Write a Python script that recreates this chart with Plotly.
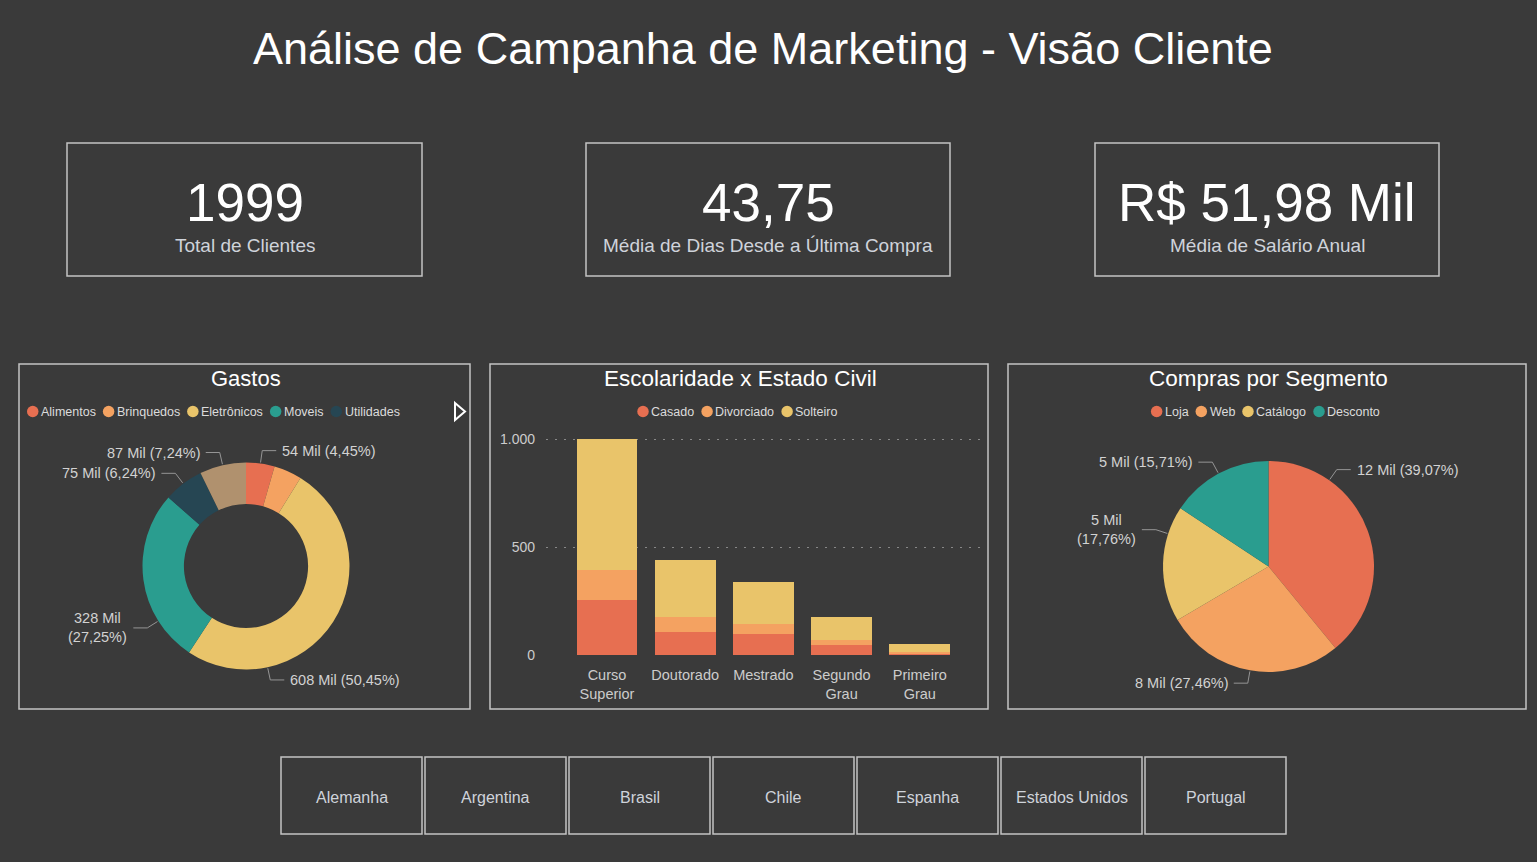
import math
import plotly.graph_objects as go

# ---------------- DATA ----------------
titulo = "Análise de Campanha de Marketing - Visão Cliente"

total_clientes = 1999
media_dias_ultima_compra = 43.75
media_salario_anual = 51980

kpi_rotulos = ["Total de Clientes", "Média de Dias Desde a Última Compra", "Média de Salário Anual"]

gastos_categorias = ["Alimentos", "Brinquedos", "Eletrônicos", "Moveis", "Utilidades", "Vestuário"]
gastos_valores = [53622, 52659, 607922, 328362, 75192, 87242]
gastos_legenda = ["Alimentos", "Brinquedos", "Eletrônicos", "Moveis", "Utilidades"]

escolaridade = ["Curso Superior", "Doutorado", "Mestrado", "Segundo Grau", "Primeiro Grau"]
estado_civil = ["Casado", "Divorciado", "Solteiro"]
casado = [255, 106, 97, 46, 9]
divorciado = [139, 70, 47, 23, 7]
solteiro = [607, 264, 194, 107, 35]
y_ticks = [0, 500, 1000]

segmentos = ["Loja", "Web", "Catálogo", "Desconto"]
compras_valores = [11721, 8238, 5328, 4713]

paises = ["Alemanha", "Argentina", "Brasil", "Chile", "Espanha", "Estados Unidos", "Portugal"]

# ---------------- STYLE ----------------
W, H = 1537, 862
BG = "#3a3a3a"
BORDER = "#c4c4c4"
FONT = "Liberation Sans, Arial, sans-serif"
LABEL_COLOR = "#cfd3da"
DATA_LABEL = "#d2d2d2"
LINE_COLOR = "#959595"
LEGEND_TEXT = "#dcdcdc"

cores_gastos = ["#e76f51", "#f4a261", "#e9c46a", "#2a9d8f", "#264653", "#b0916e"]
cores_civil = ["#e76f51", "#f4a261", "#e9c46a"]
cores_segmento = ["#e76f51", "#f4a261", "#e9c46a", "#2a9d8f"]

# label placement style (fraction along each slice, visibility, wrapping)
gastos_label_frac = [0.5, 0.5, 0.75, 0.25, 0.5, 0.5]
gastos_label_show = [True, False, True, True, True, True]
gastos_label_wrap = [False, False, False, True, False, False]
compras_label_frac = [0.25, 0.5, 0.76, 0.5]
compras_label_wrap = [False, False, True, False]

# Arial / Liberation Sans advance widths (per 1000 em) for legend layout
ARIAL_W = {" ": 278, "A": 667, "B": 667, "C": 722, "D": 722, "E": 667, "L": 556, "M": 833,
           "S": 667, "U": 722, "W": 944, "a": 556, "á": 556, "b": 556, "c": 500, "d": 556,
           "e": 556, "f": 278, "g": 556, "h": 556, "i": 222, "j": 222, "l": 222, "m": 833,
           "n": 556, "o": 556, "ô": 556, "p": 556, "q": 556, "r": 333, "s": 500, "t": 278,
           "u": 556, "v": 500, "z": 500}


def text_width(s, size):
    return sum(ARIAL_W.get(ch, 556) for ch in s) * size / 1000


def px(x):
    return x / W


def py(y):
    return 1 - y / H


def br_num(v, dec=2):
    s = f"{v:,.{dec}f}"
    return s.replace(",", "X").replace(".", ",").replace("X", ".")


fig = go.Figure()
shapes = []
annotations = []


def rect(x0, y0, x1, y1, width=1.5):
    shapes.append(dict(type="rect", xref="paper", yref="paper",
                       x0=px(x0), x1=px(x1), y0=py(y1), y1=py(y0),
                       line=dict(color=BORDER, width=width), fillcolor="rgba(0,0,0,0)", layer="below"))


def text(x, y, s, size, color, xanchor="center", yanchor="middle", align="center"):
    annotations.append(dict(xref="paper", yref="paper", x=px(x), y=py(y), text=s,
                            showarrow=False, xanchor=xanchor, yanchor=yanchor, align=align,
                            font=dict(family=FONT, size=size, color=color)))


# Title
text(763, 49, titulo, 45, "white")

# KPI cards
kpi_valores = [str(total_clientes), br_num(media_dias_ultima_compra), "R$ " + br_num(media_salario_anual / 1000) + " Mil"]
kpi_boxes = [(67, 143, 422, 276), (586, 143, 950, 276), (1095, 143, 1439, 276)]
for (x0, y0, x1, y1), val, lab in zip(kpi_boxes, kpi_valores, kpi_rotulos):
    rect(x0, y0, x1, y1)
    cx = (x0 + x1) / 2
    text(cx, 203, val, 53, "white")
    text(cx, 246, lab, 19, LABEL_COLOR)

# Panels
panels = [(19, 364, 470, 709), (490, 364, 988, 709), (1008, 364, 1526, 709)]
for p in panels:
    rect(*p)
text(246, 378, "Gastos", 22, "white")
text(740, 378, "Escolaridade x Estado Civil", 22.5, "white")
text(1268, 378, "Compras por Segmento", 22.5, "white")

# Legends (circle + text)
LEG_FS, LEG_D, LEG_TXT_GAP, LEG_ITEM_GAP = 12.5, 11.5, 0.5, 9


def legend(names, colors, y, x_left=None, x_center=None):
    widths = [text_width(n, LEG_FS) for n in names]
    total = sum(LEG_D + LEG_TXT_GAP + w + 2 for w in widths) + (LEG_ITEM_GAP - 2) * (len(names) - 1)
    x = x_left if x_left is not None else x_center - total / 2
    for n, c, w in zip(names, colors, widths):
        shapes.append(dict(type="circle", xref="paper", yref="paper",
                           x0=px(x), x1=px(x + LEG_D), y0=py(y + LEG_D / 2), y1=py(y - LEG_D / 2),
                           fillcolor=c, line=dict(width=0)))
        text(x + LEG_D + LEG_TXT_GAP, y + 0.5, n, LEG_FS, LEGEND_TEXT, xanchor="left")
        x += LEG_D + LEG_TXT_GAP + w + LEG_ITEM_GAP


legend(gastos_legenda, cores_gastos, 411.5, x_left=27)
legend(estado_civil, cores_civil, 411.5, x_center=737.5)
legend(segmentos, cores_segmento, 411.5, x_center=1265.5)

# pagination arrow in Gastos legend
shapes.append(dict(type="path", xref="paper", yref="paper",
                   path=f"M {px(455)},{py(403)} L {px(465)},{py(411.5)} L {px(455)},{py(420)} Z",
                   line=dict(color="white", width=2), fillcolor="rgba(0,0,0,0)"))


def pie_labels(values, cx, cy, R, fracs, show, wrap):
    total = sum(values)
    cum = 0.0
    for v, f, s, w in zip(values, fracs, show, wrap):
        start = cum / total * 360
        span = v / total * 360
        cum += v
        if not s:
            continue
        ang = math.radians(start + f * span)
        sx, sy = math.sin(ang), -math.cos(ang)
        ex, ey = cx + (R + 1) * sx, cy + (R + 1) * sy
        bx, by = cx + (R + 13) * sx, cy + (R + 13) * sy
        d = 1 if sx >= 0 else -1
        hx = bx + d * 14
        shapes.append(dict(type="path", xref="paper", yref="paper",
                           path=f"M {px(ex)},{py(ey)} L {px(bx)},{py(by)} L {px(hx)},{py(by)}",
                           line=dict(color=LINE_COLOR, width=1)))
        mil = f"{round(v / 1000)} Mil"
        pct = "(" + br_num(100 * v / total) + "%)"
        lab = mil + ("<br>" if w else " ") + pct
        text(hx + d * 4, by, lab, 14.5, DATA_LABEL,
             xanchor="left" if d > 0 else "right", align="center" if w else "left")


# Gastos donut
gcx, gcy, gR = 246, 566, 103.5
fig.add_trace(go.Pie(labels=gastos_categorias, values=gastos_valores, hole=0.6, sort=False,
                     direction="clockwise", rotation=0, textinfo="none",
                     marker=dict(colors=cores_gastos, line=dict(width=0)),
                     domain=dict(x=[px(gcx - gR), px(gcx + gR)], y=[py(gcy + gR), py(gcy - gR)]),
                     showlegend=False))
pie_labels(gastos_valores, gcx, gcy, gR, gastos_label_frac, gastos_label_show, gastos_label_wrap)

# Compras pie
ccx, ccy, cR = 1268.5, 566.5, 105.5
fig.add_trace(go.Pie(labels=segmentos, values=compras_valores, sort=False,
                     direction="clockwise", rotation=0, textinfo="none",
                     marker=dict(colors=cores_segmento, line=dict(width=0)),
                     domain=dict(x=[px(ccx - cR), px(ccx + cR)], y=[py(ccy + cR), py(ccy - cR)]),
                     showlegend=False))
pie_labels(compras_valores, ccx, ccy, cR, compras_label_frac, [True] * 4, compras_label_wrap)

# Stacked bars
for nome, vals, cor in zip(estado_civil, [casado, divorciado, solteiro], cores_civil):
    fig.add_trace(go.Bar(x=escolaridade, y=vals, name=nome, marker=dict(color=cor, line=dict(width=0)),
                         width=0.78, showlegend=False))

PX_PER_UNIT = (655 - 439) / 1000
y_top_px, y0_px = 430, 655
y_min = -4
y_max = (y0_px - y_top_px) / PX_PER_UNIT
y_bottom_px = y0_px - y_min * PX_PER_UNIT

fig.update_layout(
    width=W, height=H, margin=dict(l=0, r=0, t=0, b=0, pad=0, autoexpand=False),
    paper_bgcolor=BG, plot_bgcolor=BG, barmode="stack",
    separators=",.",
    font=dict(family=FONT, color="#cccccc"),
    xaxis=dict(domain=[px(546), px(980)], range=[-0.78, 4.77], showgrid=False, zeroline=False,
               showline=False, ticks="", tickvals=escolaridade, automargin=False,
               ticktext=[e.replace(" ", "<br>") for e in escolaridade],
               tickfont=dict(size=14.5, color="#cccccc"), ticklabelstandoff=9, fixedrange=True),
    yaxis=dict(domain=[py(y_bottom_px), py(y_top_px)], range=[y_min, y_max], tickvals=y_ticks,
               separatethousands=True, showgrid=True, gridcolor="#888888", griddash="1.5px,7.5px",
               gridwidth=1.2, zeroline=False, showline=False, ticks="", automargin=False,
               tickfont=dict(size=14, color="#cccccc"), ticklabelstandoff=10, fixedrange=True),
)

# Country slicer buttons
for i, pais in enumerate(paises):
    x0 = 281 + i * 144
    rect(x0, 757, x0 + 141, 834)
    text(x0 + 70.5, 797, pais, 16, LABEL_COLOR)

fig.update_layout(shapes=shapes, annotations=annotations)
fig.write_html("out.html")
